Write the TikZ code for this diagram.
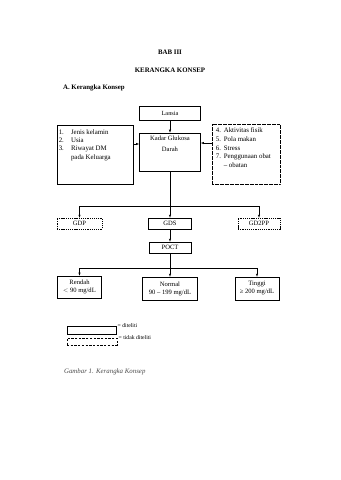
\documentclass[tikz,border=0pt]{standalone}
\usepackage{fontspec}
\setmainfont{Liberation Serif}
\usepackage{tikz}
\usetikzlibrary{arrows,positioning}

\begin{document}
\begin{tikzpicture}[
    x=1.75pt, y=-1.75pt,
    box/.style={draw, rectangle, line width=1.2pt, inner sep=0pt, align=center, font=\fontsize{11.5}{14}\selectfont},
    dashbox/.style={box, dash pattern=on 2.2pt off 1.6pt},
    dotbox/.style={box, line width=0.9pt, dash pattern=on 0.9pt off 1.3pt},
    listtext/.style={anchor=north west, inner sep=0pt, align=left, font=\fontsize{12}{14.5}\selectfont},
    title/.style={inner sep=0pt, font=\fontsize{12}{14}\selectfont\bfseries},
    arrow/.style={draw, -latex, line width=0.8pt},
    line/.style={draw, line width=0.8pt}
]
    \useasboundingbox (0,0) rectangle (340,480);

    % Titles
    \node[title] (bab) at (170,52) {BAB III};
    \node[title] (judul) at (170,70) {KERANGKA KONSEP};
    \node[title, anchor=west] (sub) at (63,88) {A. Kerangka Konsep};

    % Nodes
    \node[box, font=\fontsize{11}{13}\selectfont, minimum width=107pt, minimum height=24.5pt] (lansia) at (170,113) {Lansia};
    \node[box, minimum width=107pt, minimum height=66.5pt] (kadar) at (170,152) {};
    \node[inner sep=0pt, align=center, font=\fontsize{11.5}{19}\selectfont] (kadartext) at ([yshift=15pt]kadar.center) {Kadar Glukosa\\Darah};

    \node[box, minimum width=133pt, minimum height=103pt] (faktora) at (95,154.5) {};
    \node[listtext] (faktoratext) at ([xshift=3.5pt, yshift=-8pt]faktora.north west)
        {\makebox[21.5pt][l]{1.}Jenis kelamin\\
         \makebox[21.5pt][l]{2.}Usia\\
         \makebox[21.5pt][l]{3.}Riwayat DM\\
         \hspace*{21.5pt}pada Keluarga};

    \node[dotbox, minimum width=119pt, minimum height=105pt] (faktorb) at (246,154) {};
    \node[listtext, font=\fontsize{12}{15.5}\selectfont] (faktorbtext) at ([xshift=7pt, yshift=-6.5pt]faktorb.north west)
        {\makebox[14pt][l]{4.}Aktivitas fisik\\
         \makebox[14pt][l]{5.}Pola makan\\
         \makebox[14pt][l]{6.}Stress\\
         \makebox[14pt][l]{7.}Penggunaan obat\\
         \hspace*{14pt}-- obatan};

    \node[dashbox, minimum width=79pt, minimum height=19pt] (gdp) at (79.5,223.5) {GDP};
    \node[box, minimum width=75pt, minimum height=19pt] (gds) at (170,223.5) {GDS};
    \node[dashbox, minimum width=73.5pt, minimum height=19pt] (gd2pp) at (259,223.5) {GD2PP};
    \node[box, minimum width=73.5pt, minimum height=19pt] (poct) at (170,247.5) {POCT};

    \node[box, minimum width=77pt, minimum height=38.5pt] (rendah) at (79.5,287) {Rendah\\$<$ 90 mg/dL};
    \node[box, minimum width=96pt, minimum height=40pt] (normal) at (170,288.5) {Normal\\90 -- 199 mg/dL};
    \node[box, minimum width=77pt, minimum height=40pt] (tinggi) at (257,288.5) {Tinggi\\≥ 200 mg/dL};

    % Connections
    \coordinate (inL) at ([yshift=14pt]kadar.west);
    \coordinate (inR) at ([yshift=15.75pt]kadar.east);
    \coordinate (j1) at (170,206);
    \coordinate (j2) at (170,268);

    \path[arrow] (lansia) -- (kadar);
    \path[arrow] (faktora.east |- inL) -- (inL);
    \path[arrow] (faktorb.west |- inR) -- (inR);

    \path[line] (kadar) -- (j1);
    \path[arrow] (j1) -| (gdp);
    \path[arrow] (j1) -- (gds);
    \path[arrow] (j1) -| (gd2pp);
    \path[arrow] (gds) -- (poct);

    \path[line] (poct) -- (j2);
    \path[arrow] (j2) -| (rendah);
    \path[arrow] (j2) -- (normal);
    \path[arrow] (j2) -| (tinggi);

    % Legend
    \node[box, minimum width=86pt, minimum height=14pt] (lgditeliti) at (91.5,330) {};
    \node[box, dash pattern=on 4pt off 2.5pt, minimum width=87.5pt, minimum height=12pt] (lgtidak) at (92,341.5) {};
    \node[anchor=west, inner sep=0pt, font=\fontsize{10}{12}\selectfont] (lgtext1) at ([xshift=2pt]lgditeliti.north east) {= diteliti};
    \node[anchor=west, inner sep=0pt, font=\fontsize{10}{12}\selectfont] (lgtext2) at ([xshift=2pt]lgtidak.north east) {= tidak diteliti};

    \node[anchor=west, inner sep=0pt, text=black!70, font=\fontsize{12}{14}\selectfont\itshape] (caption) at (64,372) {Gambar 1. Kerangka Konsep};
\end{tikzpicture}
\end{document}
